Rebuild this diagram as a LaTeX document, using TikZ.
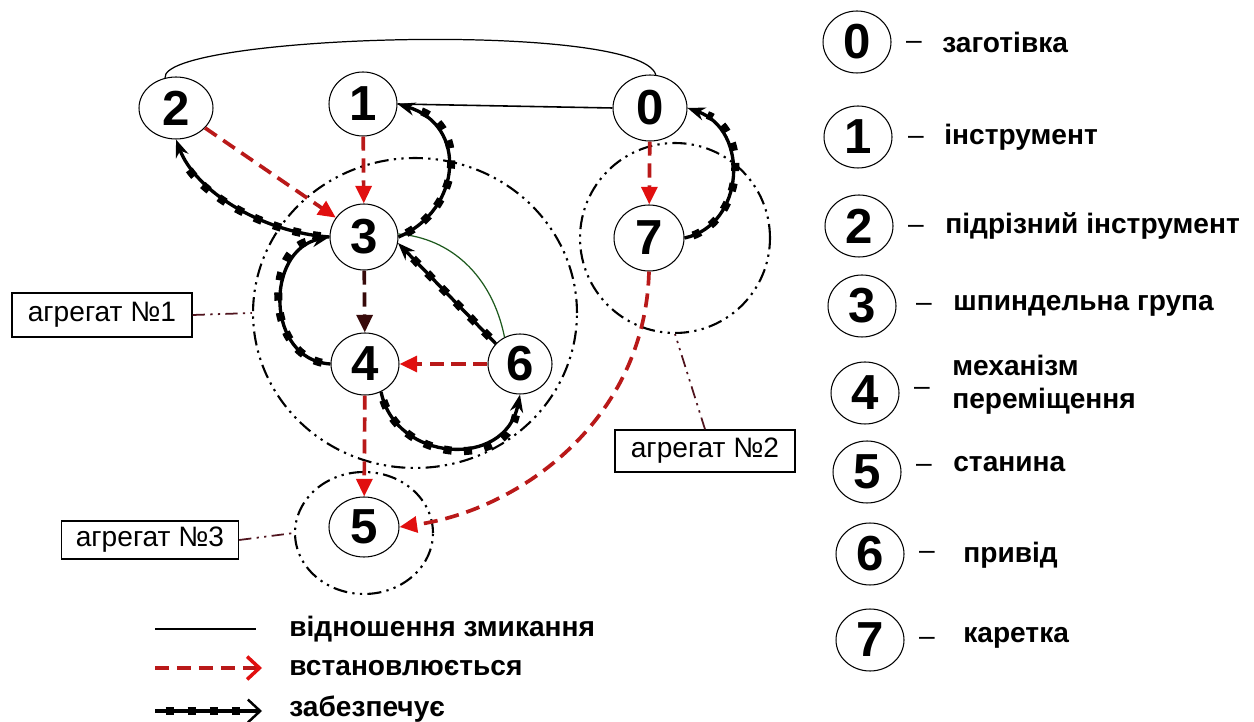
\documentclass[tikz,border=0pt]{standalone}
\usepackage{fontspec}
\setmainfont{Liberation Sans}
\usetikzlibrary{shapes.geometric,arrows.meta}
\definecolor{setred}{RGB}{185,25,25}
\definecolor{headred}{RGB}{225,15,15}
\definecolor{darkhead}{RGB}{55,10,10}
\definecolor{leadcol}{RGB}{80,20,30}
\definecolor{thingreen}{RGB}{30,90,30}
\begin{document}
\begin{tikzpicture}[x=0.02cm,y=-0.02cm,
  num/.style={ellipse, draw, line width=0.6pt, fill=white, inner sep=0pt,
    font=\fontsize{28}{28}\selectfont\bfseries},
  lnum/.style={num, minimum width=1.36cm, minimum height=1.24cm},
  setsarr/.style={draw=setred, line width=2.1pt, dash pattern=on 8pt off 4.5pt,
    -{Triangle[length=10pt,width=9pt,color=headred,fill=headred]}},
  darkarr/.style={draw=darkhead, line width=2.1pt, dash pattern=on 8pt off 4.5pt,
    -{Triangle[length=10pt,width=9pt,color=darkhead,fill=darkhead]}},
  provarr/.style={line width=1.9pt, -{Stealth[length=10pt,width=7.5pt]},
    postaction={draw, arrows=-, line width=4.6pt, dash pattern=on 4.6pt off 7pt,
      dash phase=-5pt, shorten >=12pt}},
  agg/.style={ellipse, draw, line width=1.2pt, inner sep=0pt,
    dash pattern=on 8pt off 3pt on 1.3pt off 3pt on 1.3pt off 3pt},
  leader/.style={draw=leadcol, line width=1pt,
    dash pattern=on 7pt off 3pt on 1.3pt off 3pt on 1.3pt off 3pt},
  aggbox/.style={draw, line width=0.8pt, inner sep=0pt,
    font=\fontsize{16}{16}\selectfont},
  legtxt/.style={anchor=west, inner sep=0pt, font=\fontsize{16}{19}\selectfont\bfseries},
  dashtxt/.style={inner sep=0pt, font=\fontsize{16}{16}\selectfont}
]
\useasboundingbox (0,0) rectangle (1254,722);

% aggregates
\node[agg, minimum width=6.48cm, minimum height=6.2cm] (A1) at (415,313) {};
\node[agg, minimum width=3.8cm, minimum height=3.8cm] (A2) at (675,238) {};
\node[agg, minimum width=2.76cm, minimum height=2.44cm] (A3) at (364,533) {};

% nodes
\node[num, minimum width=1.48cm, minimum height=1.24cm] (n2) at (176,108) {2};
\node[num, minimum width=1.36cm, minimum height=1.28cm] (n1) at (363,104) {1};
\node[num, minimum width=1.36cm, minimum height=1.32cm] (n3) at (364,237) {3};
\node[num, minimum width=1.36cm, minimum height=1.24cm] (n4) at (365,364) {4};
\node[num, minimum width=1.28cm, minimum height=1.2cm] (n6) at (520,364) {6};
\node[num, minimum width=1.48cm, minimum height=1.32cm] (n0) at (650,108) {0};
\node[num, minimum width=1.4cm, minimum height=1.32cm] (n7) at (649,238) {7};
\node[num, minimum width=1.4cm, minimum height=1.2cm] (n5) at (364,527) {5};

% boxes
\node[aggbox, minimum width=3.6cm, minimum height=0.88cm] (b1) at (102,315) {агрегат №1};
\node[aggbox, minimum width=3.6cm, minimum height=0.84cm] (b2) at (705,451) {агрегат №2};
\node[aggbox, minimum width=3.54cm, minimum height=0.76cm] (b3) at (150,540) {агрегат №3};
\draw[leader] (b1.east) -- (A1.west);
\draw[leader] (b2.north) -- (A2.south);
\draw[leader] (b3.east) -- (A3.west);

% closing relations
\draw[line width=0.7pt] (n2.110) .. controls (160,35) and (640,20) .. (n0.80);
\draw[line width=0.9pt] (n0.west) -- (n1.east);
\draw[thingreen, line width=0.7pt] (n6.120) .. controls (492,275) and (450,238) .. (n3.5);

% sets (red dashed)
\draw[setsarr] (n2) -- (n3);
\draw[setsarr] (n1) -- (n3);
\draw[setsarr] (n0) -- (n7);
\draw[darkarr] (n3) -- (n4);
\draw[setsarr] (n6) -- (n4);
\draw[setsarr] (n4) -- (n5);
\draw[setsarr] (n7.south) .. controls (645,420) and (520,510) .. (n5.east);

% provides
\draw[provarr] (n3.west) .. controls (260,232) and (195,190) .. (n2.south);
\draw[provarr] (n3.east) .. controls (462,210) and (468,125) .. (n1.east);
\draw[provarr] (n7.east) .. controls (745,225) and (750,130) .. (n0.east);
\draw[provarr] (n6.140) -- (n3.-10);
\draw[provarr] (n4.west) .. controls (265,360) and (265,250) .. (n3.west);
\draw[provarr] (n4.-60) .. controls (395,462) and (505,470) .. (n6.south);

% bottom legend
\coordinate (la1) at (155,629); \coordinate (lb1) at (256,629);
\coordinate (la2) at (155,668); \coordinate (lb2) at (262,668);
\coordinate (la3) at (155,711); \coordinate (lb3) at (262,711);
\draw[line width=0.9pt] (la1) -- (lb1);
\draw[draw=setred, line width=2.1pt, dash pattern=on 8pt off 4.5pt,
  -{Straight Barb[length=7pt,width=13pt,line width=2pt,color=headred]}] (la2) -- (lb2);
\draw[line width=1.9pt, -{Straight Barb[length=7pt,width=13pt,line width=1.4pt]},
  postaction={draw, arrows=-, line width=4.6pt, dash pattern=on 4.6pt off 8pt,
      dash phase=-6pt, shorten >=10pt}] (la3) -- (lb3);
\node[legtxt] (t1) at (289,629) {відношення змикання};
\node[legtxt] (t2) at (289,668) {встановлюється};
\node[legtxt] (t3) at (289,709) {забезпечує};

% right legend
\node[lnum] (L0) at (857,42) {0};
\node[lnum] (L1) at (858,137) {1};
\node[lnum] (L2) at (859,226) {2};
\node[lnum] (L3) at (862,306) {3};
\node[lnum] (L4) at (865,393) {4};
\node[lnum] (L5) at (867,472) {5};
\node[lnum] (L6) at (870,554) {6};
\node[lnum] (L7) at (870,640) {7};
\node[dashtxt] (d0) at (914,45) {–};
\node[dashtxt] (d1) at (916,140) {–};
\node[dashtxt] (d2) at (916,229) {–};
\node[dashtxt] (d3) at (924,307) {–};
\node[dashtxt] (d4) at (922,391) {–};
\node[dashtxt] (d5) at (924,468) {–};
\node[dashtxt] (d6) at (927,555) {–};
\node[dashtxt] (d7) at (927,641) {–};
\node[legtxt] (e0) at (942,42) {заготівка};
\node[legtxt] (e1) at (944,137) {інструмент};
\node[legtxt] (e2) at (945,226) {підрізний інструмент};
\node[legtxt] (e3) at (953,306) {шпиндельна група};
\node[legtxt, align=left] (e4) at (952,385) {механізм\\переміщення};
\node[legtxt] (e5) at (953,464) {станина};
\node[legtxt] (e6) at (963,555) {привід};
\node[legtxt] (e7) at (963,638) {каретка};
\end{tikzpicture}
\end{document}
